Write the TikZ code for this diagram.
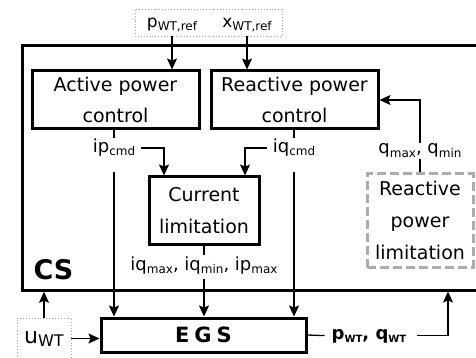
\documentclass[tikz,border=0pt]{standalone}
\usepackage{fontspec}
\setmainfont{DejaVu Sans}
\usetikzlibrary{arrows.meta}
\newcommand{\lowsub}[2][12]{\raisebox{-3pt}{\fontsize{#1}{#1}\selectfont #2}}

\begin{document}
\begin{tikzpicture}[x=1pt, y=-1pt]
  \tikzstyle{blk} = [draw, line width=3pt, align=center, inner sep=0pt, font=\fontsize{19}{31}\selectfont]
  \tikzstyle{lim} = [blk, draw=gray!65, dash pattern=on 9pt off 4pt, font=\fontsize{19}{32}\selectfont]
  \tikzstyle{inp} = [draw=gray!70, dotted, line width=0.9pt, inner sep=0pt]
  \tikzstyle{lbl} = [anchor=base, inner sep=1pt, font=\fontsize{18}{18}\selectfont]
  \tikzstyle{sig} = [-{Stealth[length=11pt, width=10pt, inset=2pt]}, line width=1.3pt]
  \useasboundingbox (0,0) rectangle (476,358);
  % control system frame (right side runs past the edge)
  \node[minimum width=455pt, minimum height=244pt, inner sep=0pt] (cs) at (250.35, 168) {};
  \draw[line width=3.2pt] (cs.north east) -- (cs.north west) -- (cs.south west) -- (cs.south east);
  \node[anchor=base, font=\fontsize{27}{27}\selectfont\bfseries] (cslbl) at (53.5, 279) {CS};
  % inputs
  \node[inp, minimum width=147pt, minimum height=27pt] (refbox) at (208.5, 22.5) {};
  \node[lbl, font=\fontsize{17}{17}\selectfont] (pref) at (172, 28) {p\lowsub{WT,ref}};
  \node[lbl, font=\fontsize{17}{17}\selectfont] (xref) at (247, 28) {x\lowsub{WT,ref}};
  \node[inp, minimum width=54pt, minimum height=41pt, font=\fontsize{22}{22}\selectfont] (uwt) at (44, 338.5) {u\lowsub[16]{WT}};
  % blocks
  \node[blk, minimum width=167pt, minimum height=58pt] (apc) at (115.5, 100) {Active power\\control};
  \node[blk, minimum width=167pt, minimum height=58pt] (rpc) at (294.5, 100) {Reactive power\\control};
  \node[blk, minimum width=110pt, minimum height=67pt, font=\fontsize{19}{32}\selectfont] (cl) at (204, 210.5) {Current\\limitation};
  \node[lim, minimum width=106pt, minimum height=93pt] (rpl) at (420, 220.5) {Reactive\\power\\limitation};
  \node[blk, minimum width=205pt, minimum height=34pt, font=\fontsize{21}{21}\selectfont\bfseries] (egs) at (203.5, 335) {E\kern5pt G\kern5pt S};
  % signal labels
  \node[lbl] (ipcmd) at (114, 153) {ip\lowsub{cmd}};
  \node[lbl] (iqcmd) at (294, 153) {iq\lowsub{cmd}};
  \node[lbl] (qlim) at (420, 154) {q\lowsub{max}, q\lowsub{min}};
  \node[lbl] (curlim) at (204, 270) {iq\lowsub{max}, iq\lowsub{min}, ip\lowsub{max}};
  \node[lbl, font=\fontsize{18}{18}\selectfont\bfseries] (pq) at (369, 339) {p\lowsub[10]{WT}, q\lowsub[10]{WT}};
  \coordinate (csin) at (448, 290);
  % connections
  \draw[sig] (pref |- refbox.south) -- (pref |- apc.north);
  \draw[sig] (xref |- refbox.south) -- (xref |- rpc.north);
  \draw[line width=1.3pt] (ipcmd.north |- apc.south) -- (ipcmd.north);
  \draw[line width=1.3pt] (iqcmd.north |- rpc.south) -- (iqcmd.north);
  \draw[sig, shorten <=5pt] (ipcmd.east) -| ([xshift=-40pt]cl.north);
  \draw[sig, shorten <=5pt] (iqcmd.west) -| ([xshift=41pt]cl.north);
  \draw[sig, shorten <=14pt] (ipcmd.south) -- (ipcmd.south |- egs.north);
  \draw[sig, shorten <=14pt] (iqcmd.south) -- (iqcmd.south |- egs.north);
  \draw[line width=1.3pt] (cl.south) -- (curlim.north);
  \draw[sig, shorten <=4pt] (curlim.south) -- (curlim.south |- egs.north);
  \draw[line width=1.3pt] (rpl.north) -- (qlim.south);
  \draw[sig] (qlim.north) |- (rpc.east);
  \draw[sig] (uwt.east) -- (uwt.east -| egs.west);
  \draw[sig, shorten >=1.5pt] (uwt.north) -- (uwt.north |- cs.south);
  \draw[line width=1.3pt, shorten >=6pt] (egs.east) -- (pq.west);
  \draw[sig, shorten <=10pt, shorten >=1.5pt] (pq.east) -| (csin);
\end{tikzpicture}
\end{document}
